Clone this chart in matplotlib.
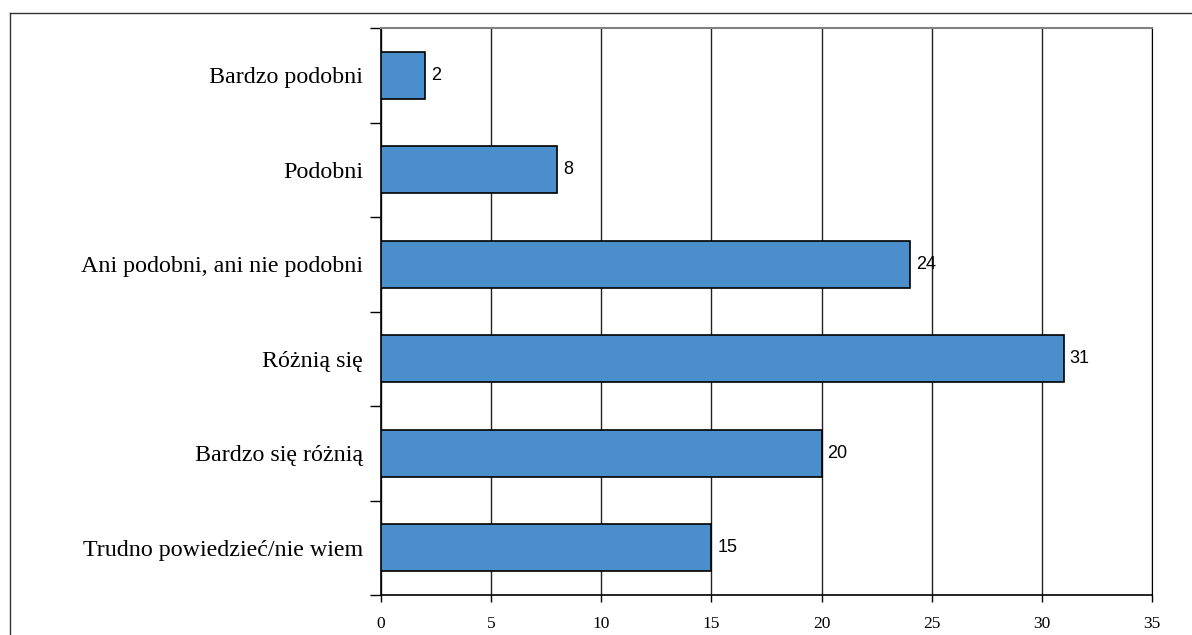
import matplotlib.pyplot as plt
from matplotlib.lines import Line2D

categories = ['Bardzo podobni', 'Podobni', 'Ani podobni, ani nie podobni',
              'Różnią się', 'Bardzo się różnią', 'Trudno powiedzieć/nie wiem']
values = [2, 8, 24, 31, 20, 15]
xticks = [0, 5, 10, 15, 20, 25, 30, 35]

fig = plt.figure(figsize=(11.92, 6.35), dpi=100)
ax = fig.add_axes([381 / 1192, 40 / 635, (1152 - 381) / 1192, (595 - 28) / 635])

n = len(categories)
pos = list(range(n))
ax.barh(pos, values, height=0.5, color='#4a8fcb', edgecolor='black', linewidth=1.2, zorder=3)
for p, v in zip(pos, values):
    ax.text(v + 0.27, p, str(v), va='center', ha='left', fontsize=13,
            family='Liberation Sans', zorder=4)

ax.set_xlim(0, 35)
ax.set_ylim(n - 0.5, -0.5)
ax.set_xticks(xticks)
ax.set_xticklabels([str(t) for t in xticks], family='Liberation Serif', fontsize=12.5)
ax.set_yticks(pos)
ax.set_yticklabels(categories, family='Liberation Serif', fontsize=17.3)
ax.tick_params(axis='y', length=0, pad=13)
ax.set_yticks([i + 0.5 for i in range(-1, n)], minor=True)
ax.tick_params(axis='y', which='minor', length=8, width=1, direction='out')
ax.tick_params(axis='x', length=5, width=1, direction='out', pad=10)

ax.grid(axis='x', color='#222222', linewidth=1, zorder=0)
for s in ['left', 'bottom']:
    ax.spines[s].set_color('black')
    ax.spines[s].set_linewidth(1.2)
ax.spines['top'].set_color('#808080')
ax.spines['top'].set_linewidth(1.5)
ax.spines['right'].set_color('black')

# outer frame
fig.add_artist(Line2D([10 / 1192, 1], [1 - 13 / 635, 1 - 13 / 635], transform=fig.transFigure,
                      color='#333333', linewidth=1))
fig.add_artist(Line2D([10 / 1192, 10 / 1192], [0, 1 - 13 / 635], transform=fig.transFigure,
                      color='#333333', linewidth=1))

plt.savefig('out.png', dpi=100)
